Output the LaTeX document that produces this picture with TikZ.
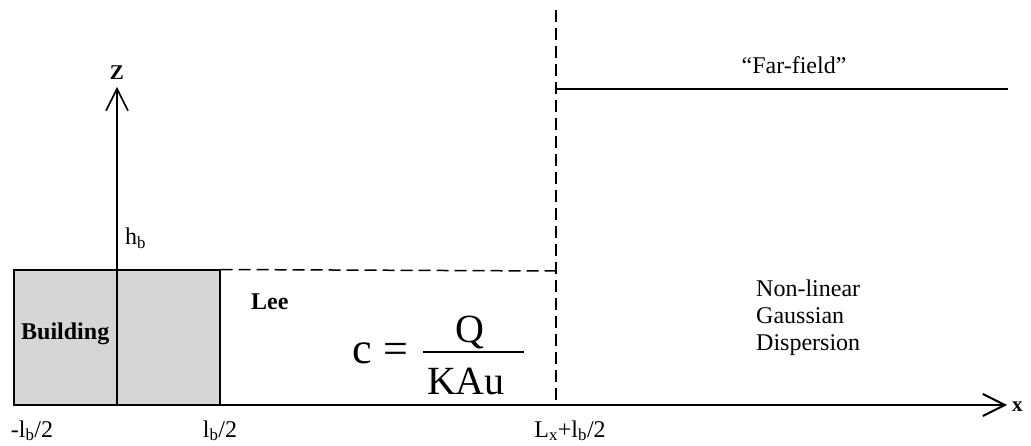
\documentclass[tikz,border=0pt]{standalone}
\usepackage{fontspec}
\setmainfont{Liberation Serif}
\usetikzlibrary{arrows.meta}
\definecolor{bgray}{RGB}{214,214,214}
\begin{document}
\begin{tikzpicture}[x=1pt,y=-1pt,
  lab/.style={font=\fontsize{24}{28}\selectfont, inner sep=0pt, anchor=base},
  blab/.style={font=\fontsize{24}{28}\selectfont\bfseries, inner sep=0pt, anchor=base},
  axlab/.style={font=\fontsize{21}{21}\selectfont\bfseries, inner sep=0pt, anchor=base},
  axisline/.style={line width=1.6pt, -{Straight Barb[length=22pt,width=22pt]}},
  dashline/.style={line width=1.5pt, dash pattern=on 12pt off 6pt},
  eqbig/.style={font=\fontsize{44}{44}\selectfont, inner sep=0pt, anchor=base},
  eqfr/.style={font=\fontsize{40}{40}\selectfont, inner sep=0pt, anchor=base}]
\useasboundingbox (0,0) rectangle (1031,446);

% building
\node[draw, line width=1.5pt, fill=bgray, minimum width=206pt, minimum height=134pt,
      inner sep=0pt, anchor=south west] (bld) at (13,405) {};
\node[blab, anchor=base west] (bldl) at (21,340) {Building};

% coordinates
\coordinate (o) at (117,405);
\coordinate (zt) at (117,87);
\coordinate (xs) at (13,405);
\coordinate (xe) at (1007,405);
\coordinate (corner) at (556,271);
\coordinate (vtop) at (556,10);
\coordinate (vbot) at (556,405);
\coordinate (ffs) at (556,89);
\coordinate (ffe) at (1008,89);

% z axis
\draw[axisline] (o) -- (zt);
% x axis
\draw[axisline, line width=2pt] (xs) -- (xe);

% dashed lee region
\draw[dashline] (bld.north east) -- (corner);
\draw[dashline] (vtop) -- (vbot);

% far-field line
\draw[line width=1.8pt] (ffs) -- (ffe);

% labels
\node[axlab] (zl) at (117,80) {Z};
\node[axlab, anchor=base west] (xl) at (1012,411) {x};
\node[lab, anchor=base west] (hb) at (125,245) {h\textsubscript{b}};
\node[blab, anchor=base west] (lee) at (251,310) {Lee};
\node[lab] (far) at (794,74) {“Far-field”};
\node[lab, anchor=base west] (nl1) at (756,297) {Non-linear};
\node[lab, anchor=base west] (nl2) at (756,324) {Gaussian};
\node[lab, anchor=base west] (nl3) at (756,351) {Dispersion};
\node[lab] (t1) at (32,437) {-l\textsubscript{b}/2};
\node[lab] (t2) at (220,437) {l\textsubscript{b}/2};
\node[lab] (t3) at (570,437) {L\textsubscript{x}+l\textsubscript{b}/2};

% equation
\node[eqbig] (ec) at (362,363) {c};
\node[eqbig, anchor=center] (eeq) at (396,353) {=};
\node[eqfr] (eq) at (470,343) {Q};
\coordinate (bl) at (423,352);
\coordinate (br) at (524,352);
\draw[line width=1.5pt] (bl) -- (br);
\node[eqfr] (ekau) at (466,394) {KAu};
\end{tikzpicture}
\end{document}
